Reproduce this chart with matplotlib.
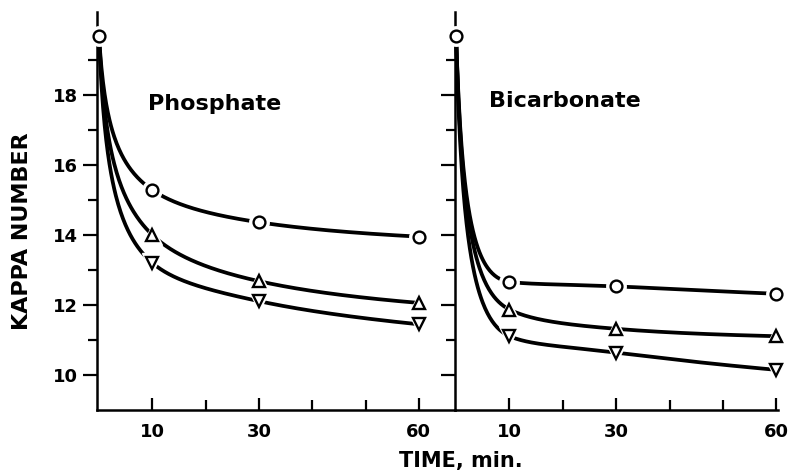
import numpy as np
import matplotlib
matplotlib.use('Agg')
import matplotlib.pyplot as plt

plt.rcParams['font.family'] = ['DejaVu Sans']
plt.rcParams['font.weight'] = 'bold'

# reaction time, min
time = [0, 10, 30, 60]

# kappa number, phosphate buffer
phos_circle = [19.66, 15.28, 14.36, 13.95]
phos_up = [19.66, 14.00, 12.68, 12.06]
phos_down = [19.66, 13.20, 12.11, 11.45]

# kappa number, bicarbonate buffer
bicarb_circle = [19.66, 12.66, 12.53, 12.32]
bicarb_up = [19.66, 11.87, 11.32, 11.11]
bicarb_down = [19.66, 11.11, 10.64, 10.15]

panel_titles = ['Phosphate', 'Bicarbonate']


def pchip(x, y, xs):
    # monotone cubic through the points (Fritsch-Carlson)
    x = np.asarray(x, float)
    y = np.asarray(y, float)
    h = np.diff(x)
    d = np.diff(y) / h
    n = len(x)
    m = np.zeros(n)
    for k in range(1, n - 1):
        if d[k - 1] * d[k] > 0:
            w1 = 2 * h[k] + h[k - 1]
            w2 = h[k] + 2 * h[k - 1]
            m[k] = (w1 + w2) / (w1 / d[k - 1] + w2 / d[k])

    def end(h0, h1, d0, d1):
        s = ((2 * h0 + h1) * d0 - h0 * d1) / (h0 + h1)
        if np.sign(s) != np.sign(d0):
            s = 0.0
        elif np.sign(d0) != np.sign(d1) and abs(s) > abs(3 * d0):
            s = 3 * d0
        return s

    m[0] = end(h[0], h[1], d[0], d[1])
    m[-1] = end(h[-1], h[-2], d[-1], d[-2])
    idx = np.clip(np.searchsorted(x, xs) - 1, 0, n - 2)
    t = (xs - x[idx]) / h[idx]
    h00 = 2 * t**3 - 3 * t**2 + 1
    h10 = t**3 - 2 * t**2 + t
    h01 = -2 * t**3 + 3 * t**2
    h11 = t**3 - t**2
    return (h00 * y[idx] + h10 * h[idx] * m[idx]
            + h01 * y[idx + 1] + h11 * h[idx] * m[idx + 1])


fig = plt.figure(figsize=(7.94, 4.72), dpi=100)
bottom = 0.131
height = 0.974 - bottom
ax1 = fig.add_axes([0.1222, bottom, 0.4509, height])
ax2 = fig.add_axes([0.5731, bottom, 0.4068, height])

panels = [
    (ax1, [phos_circle, phos_up, phos_down], (-0.375, 66.8)),
    (ax2, [bicarb_circle, bicarb_up, bicarb_down], (-0.2, 60.3)),
]
markers = ['o', '^', 'v']
msize = {'o': 8.5, '^': 9, 'v': 9}

for (ax, series, xlim), title in zip(panels, panel_titles):
    tt = np.linspace(0, 60, 400)
    for vals, mk in zip(series, markers):
        u = np.log1p(time)
        yy = pchip(u, vals, np.log1p(tt))
        ax.plot(tt, yy, color='black', lw=2.7, solid_capstyle='butt',
                zorder=2, clip_on=False)
        xs = time if mk == 'o' else time[1:]
        ys = vals if mk == 'o' else vals[1:]
        # white halo to leave a gap between line and marker
        ax.plot(xs, ys, ls='none', marker=mk, ms=msize[mk] + 5.5,
                mfc='white', mec='white', zorder=4, clip_on=False)
        ax.plot(xs, ys, ls='none', marker=mk, ms=msize[mk], mfc='white',
                mec='black', mew=1.7, zorder=5, clip_on=False)

    ax.set_xlim(*xlim)
    ax.set_ylim(9, 20.35)
    ax.spines['top'].set_visible(False)
    ax.spines['right'].set_visible(False)
    ax.spines['left'].set_linewidth(1.8)
    ax.spines['bottom'].set_linewidth(1.8)
    ax.set_xticks([10, 30, 60])
    ax.set_xticks([20, 40, 50], minor=True)
    ax.set_yticks([10, 12, 14, 16, 18])
    ax.set_yticks([11, 13, 15, 17, 19], minor=True)
    ax.tick_params(axis='x', which='major', direction='in', length=9,
                   width=1.6, pad=9, labelsize=13)
    ax.tick_params(axis='x', which='minor', direction='in', length=7,
                   width=1.6)
    ax.tick_params(axis='y', which='major', direction='out', length=10,
                   width=1.6, pad=4, labelsize=13)
    ax.tick_params(axis='y', which='minor', direction='out', length=6.5,
                   width=1.6)
    ax.patch.set_visible(False)

ax1.text(9.2, 17.55, panel_titles[0], fontsize=16, fontweight='bold',
         ha='left', va='baseline')
ax2.text(6.1, 17.65, panel_titles[1], fontsize=16, fontweight='bold',
         ha='left', va='baseline')

ax2.tick_params(axis='y', labelleft=False)

fig.text(0.028, 0.511, 'KAPPA NUMBER', fontsize=16, fontweight='bold',
         rotation=90, ha='center', va='center')
fig.text(0.5806, 0.023, 'TIME, min.', fontsize=15, fontweight='bold',
         ha='center', va='center')

fig.savefig('out.png', dpi=100)
